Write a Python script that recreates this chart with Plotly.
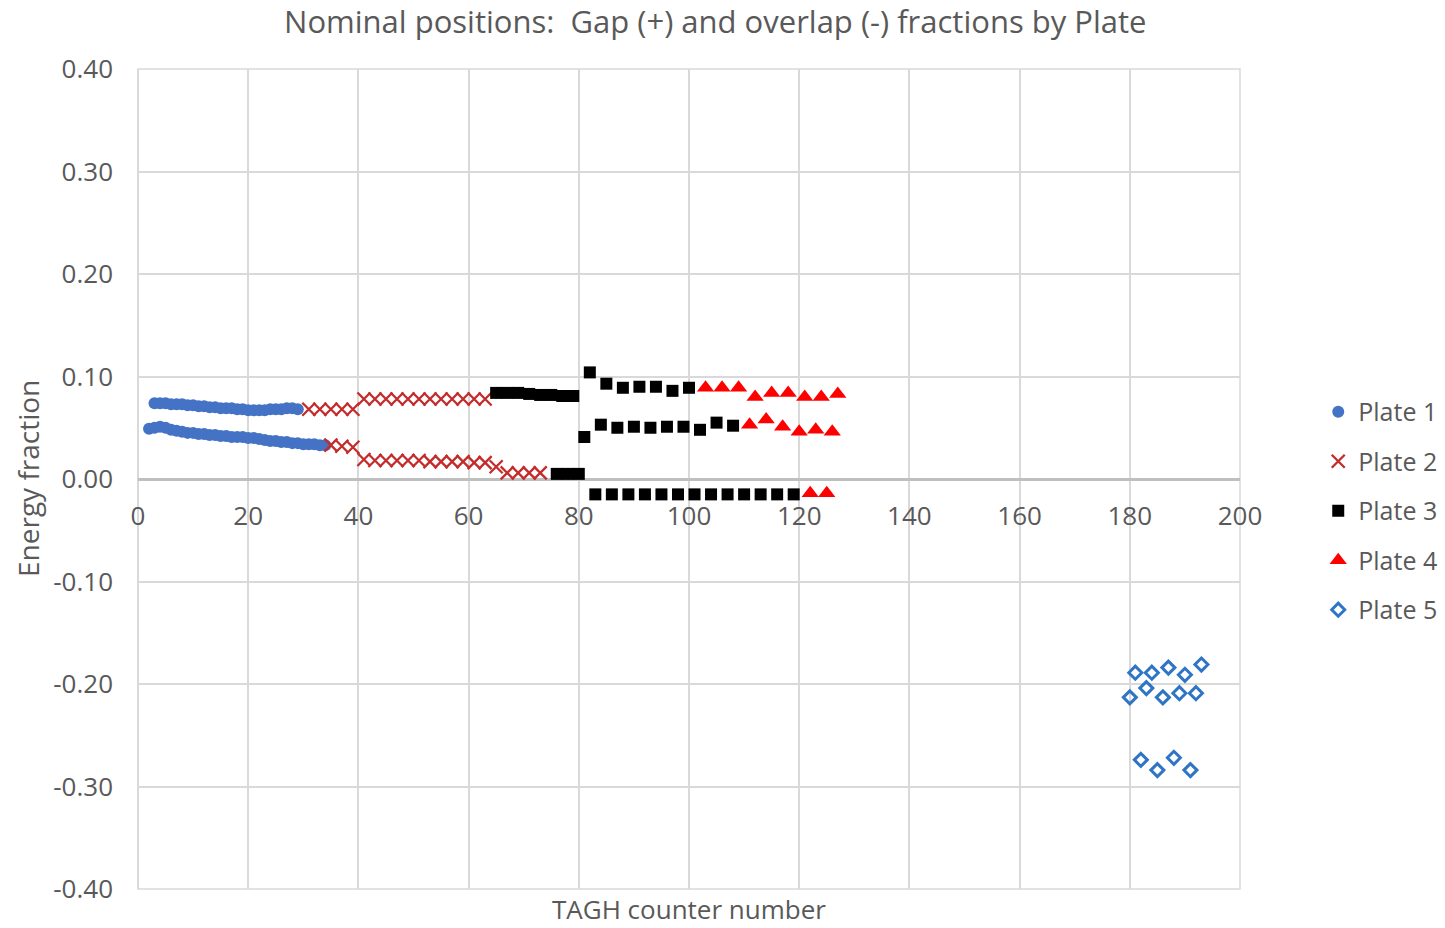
import plotly.graph_objects as go

# ---------------- data ----------------
plate1_x = [3, 4, 5, 6, 7, 8, 9, 10, 11, 12, 13, 14, 15, 16, 17, 18, 19, 20, 21, 22, 23, 24, 25, 26, 27, 28, 29,
            2, 3, 4, 5, 6, 7, 8, 9, 10, 11, 12, 13, 14, 15, 16, 17, 18, 19, 20, 21, 22, 23, 24, 25, 26, 27, 28,
            29, 30, 31, 32, 33, 34]
plate1_y = [0.074, 0.074, 0.074, 0.073, 0.073, 0.073, 0.072, 0.072, 0.071, 0.071, 0.070, 0.070, 0.069, 0.069,
            0.069, 0.068, 0.068, 0.067, 0.067, 0.067, 0.067, 0.068, 0.068, 0.068, 0.069, 0.069, 0.068,
            0.049, 0.050, 0.051, 0.050, 0.048, 0.047, 0.046, 0.045, 0.045, 0.044, 0.044, 0.043, 0.043, 0.042,
            0.042, 0.041, 0.041, 0.041, 0.040, 0.040, 0.039, 0.038, 0.037, 0.037, 0.036, 0.036, 0.035, 0.035,
            0.034, 0.034, 0.034, 0.033, 0.033]

plate2_x = [31, 33, 35, 37, 39, 41, 43, 45, 47, 49, 51, 53, 55, 57, 59, 61, 63,
            35, 37, 39, 41, 43, 45, 47, 49, 51, 53, 55, 57, 59, 61, 63, 65, 67, 69, 71, 73]
plate2_y = [0.068, 0.068, 0.068, 0.068, 0.068, 0.078, 0.078, 0.078, 0.078, 0.078, 0.078, 0.078, 0.078,
            0.078, 0.078, 0.078, 0.078,
            0.033, 0.032, 0.031, 0.019, 0.018, 0.018, 0.018, 0.018, 0.018, 0.017, 0.017, 0.017, 0.017,
            0.016, 0.016, 0.012, 0.006, 0.006, 0.006, 0.006]

plate3_x = [65, 67, 69, 71, 73, 75, 77, 79,
            76, 78, 80,
            82, 85, 88, 91, 94, 97, 100,
            81, 84, 87, 90, 93, 96, 99, 102, 105, 108,
            83, 86, 89, 92, 95, 98, 101, 104, 107, 110, 113, 116, 119]
plate3_y = [0.084, 0.084, 0.084, 0.083, 0.082, 0.082, 0.081, 0.081,
            0.005, 0.005, 0.005,
            0.104, 0.093, 0.089, 0.090, 0.090, 0.086, 0.089,
            0.041, 0.053, 0.050, 0.051, 0.050, 0.051, 0.051, 0.048, 0.055, 0.052,
            -0.015, -0.015, -0.015, -0.015, -0.015, -0.015, -0.015, -0.015, -0.015, -0.015, -0.015,
            -0.015, -0.015]

plate4_x = [103, 106, 109, 112, 115, 118, 121, 124, 127,
            111, 114, 117, 120, 123, 126,
            122, 125]
plate4_y = [0.089, 0.089, 0.089, 0.080, 0.084, 0.084, 0.080, 0.080, 0.083,
            0.053, 0.058, 0.051, 0.046, 0.048, 0.046,
            -0.014, -0.014]

plate5_x = [181, 184, 187, 190, 193,
            180, 183, 186, 189, 192,
            182, 185, 188, 191]
plate5_y = [-0.189, -0.189, -0.184, -0.191, -0.181,
            -0.213, -0.204, -0.213, -0.209, -0.209,
            -0.274, -0.284, -0.272, -0.284]

x_ticks = [0, 20, 40, 60, 80, 100, 120, 140, 160, 180, 200]
y_ticks = [-0.40, -0.30, -0.20, -0.10, 0.00, 0.10, 0.20, 0.30, 0.40]

TEXT = "#595959"
FONT = "Open Sans"
GRID = "#D9D9D9"

fig = go.Figure()
fig.add_trace(go.Scatter(x=plate1_x, y=plate1_y, mode="markers", name="Plate 1", legendgroup="p1",
                         marker=dict(symbol="circle", size=12, color="#4472C4")))
fig.add_trace(go.Scatter(x=plate2_x, y=plate2_y, mode="markers", name="Plate 2", legendgroup="p2",
                         marker=dict(symbol="x-thin-open", size=13, color="#C42B2B",
                                     line=dict(color="#C42B2B", width=2.3))))
fig.add_trace(go.Scatter(x=plate3_x, y=plate3_y, mode="markers", name="Plate 3", legendgroup="p3",
                         marker=dict(symbol="square", size=12, color="#000000")))
fig.add_trace(go.Scatter(x=plate4_x, y=plate4_y, mode="markers", name="Plate 4", legendgroup="p4",
                         marker=dict(symbol="triangle-up", size=15, color="#FF0000")))
fig.add_trace(go.Scatter(x=plate5_x, y=plate5_y, mode="markers", name="Plate 5", legendgroup="p5",
                         marker=dict(symbol="diamond-open", size=10, color="#2E75C6",
                                     line=dict(color="#2E75C6", width=3))))

fig.update_layout(
    width=1445, height=928,
    margin=dict(l=138, r=205, t=69, b=39, autoexpand=False),
    paper_bgcolor="white", plot_bgcolor="white",
    font=dict(family=FONT, color=TEXT, size=26),
    title=dict(text="Nominal positions:  Gap (+) and overlap (-) fractions by Plate",
               x=0.495, xref="container", xanchor="center",
               y=1 - 22 / 928, yref="container", yanchor="middle",
               font=dict(family=FONT, size=31, color=TEXT)),
    xaxis=dict(range=[0, 200], tickvals=x_ticks, ticktext=[str(v) for v in x_ticks],
               showgrid=True, gridcolor=GRID, gridwidth=1.5,
               zeroline=True, zerolinecolor=GRID, zerolinewidth=2,
               showline=False, anchor="free", position=0.5,
               ticks="", tickfont=dict(size=26, color=TEXT, family=FONT),
               ticklabelstandoff=19),
    yaxis=dict(range=[-0.40, 0.40], tickvals=y_ticks, ticktext=[f"{v:.2f}" for v in y_ticks],
               showgrid=True, gridcolor=GRID, gridwidth=1.5,
               zeroline=True, zerolinecolor="#BFBFBF", zerolinewidth=3,
               showline=False, ticks="", tickfont=dict(size=26, color=TEXT, family=FONT),
               ticklabelstandoff=24),
    legend=dict(x=1.071, xanchor="left", y=0.461, yanchor="middle",
                font=dict(size=25, color=TEXT, family=FONT),
                tracegroupgap=14, bgcolor="rgba(0,0,0,0)"),
    shapes=[dict(type="rect", xref="paper", yref="paper", x0=0, x1=1, y0=0, y1=1,
                 line=dict(color=GRID, width=1.5), layer="below")],
    annotations=[
        dict(text="TAGH counter number", xref="paper", yref="paper", x=0.5, y=-0.024,
             xanchor="center", yanchor="middle", showarrow=False,
             font=dict(size=26, color=TEXT, family=FONT)),
        dict(text="Energy fraction", xref="paper", yref="paper", x=-0.0998, y=0.5,
             xanchor="center", yanchor="middle", showarrow=False, textangle=-90,
             font=dict(size=28, color=TEXT, family=FONT)),
    ],
)

fig.write_html("out.html")
